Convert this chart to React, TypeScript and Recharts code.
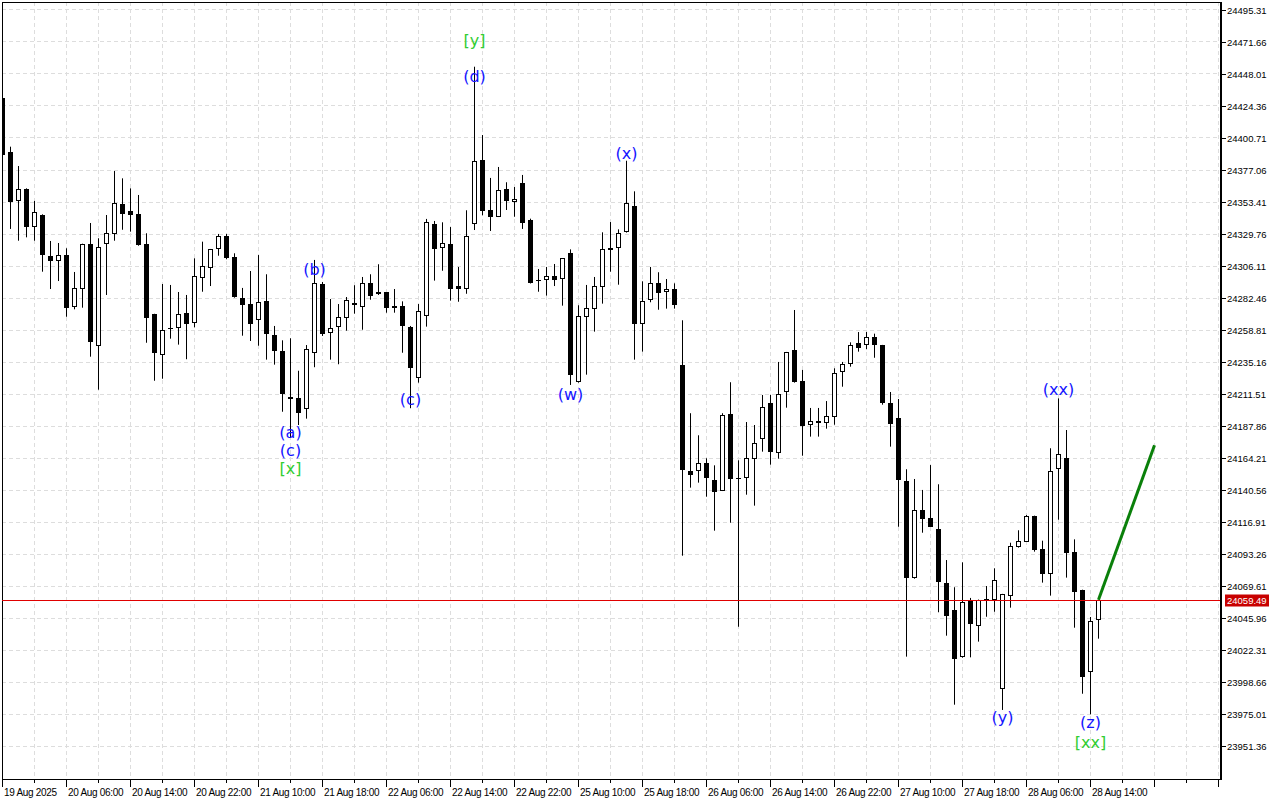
import React from "react";
import {
  ComposedChart,
  Bar,
  Line,
  Scatter,
  XAxis,
  YAxis,
  CartesianGrid,
  ReferenceLine,
  ReferenceArea,
} from "recharts";

// hourly candles, 19 Aug 22:00 .. 28 Aug 15:00
const highs = [
  24431.8, 24394.3, 24380.0, 24363.5, 24354.2, 24344.3, 24324.6, 24323.1, 24319.2, 24301.7,
  24322.6, 24337.9, 24326.6, 24343.8, 24376.3, 24370.9, 24363.5, 24358.6, 24330.3, 24270.8,
  24292.8, 24292.1, 24286.9, 24284.7, 24311.8, 24324.1, 24318.7, 24329.8, 24329.8, 24315.5,
  24289.9, 24302.4, 24314.2, 24300.0, 24261.8, 24251.2, 24252.7, 24228.7, 24247.7, 24310.6,
  24294.3, 24281.7, 24278.0, 24283.2, 24291.9, 24298.0, 24300.0, 24307.4, 24286.9, 24289.1,
  24280.0, 24261.8, 24278.0, 24340.9, 24339.4, 24338.4, 24334.9, 24305.4, 24347.3, 24453.4,
  24402.9, 24371.2, 24379.3, 24368.0, 24364.5, 24373.4, 24341.1, 24303.9, 24305.4, 24307.6,
  24312.0, 24318.4, 24277.1, 24292.1, 24298.0, 24331.0, 24338.6, 24333.2, 24383.9, 24361.3,
  24294.8, 24305.4, 24301.5, 24296.5, 24293.3, 24266.0, 24197.3, 24181.0, 24164.0, 24158.8,
  24197.3, 24220.2, 24162.5, 24190.8, 24188.6, 24210.8, 24210.8, 24235.2, 24242.6, 24273.6,
  24229.3, 24201.2, 24201.2, 24206.3, 24230.5, 24235.2, 24249.7, 24257.3, 24257.3, 24256.1,
  24247.8, 24213.0, 24207.8, 24155.9, 24148.7, 24140.6, 24159.0, 24144.8, 24088.8, 24068.7,
  24087.1, 24060.8, 24059.6, 24069.6, 24082.7, 24063.8, 24101.6, 24110.8, 24122.1, 24121.6,
  24103.1, 24171.4, 24208.3, 24184.9, 24104.1, 24066.9, 24046.7, 24059.49,
];
const opens = [
  24430.0, 24390.6, 24354.4, 24363.0, 24334.7, 24343.8, 24313.3, 24309.6, 24314.2, 24275.6,
  24288.9, 24322.2, 24246.8, 24322.2, 24330.0, 24351.7, 24346.5, 24344.5, 24322.4, 24270.4,
  24240.1, 24260.3, 24260.1, 24271.2, 24263.8, 24297.0, 24304.4, 24318.4, 24328.1, 24312.5,
  24282.5, 24277.8, 24266.0, 24280.0, 24255.1, 24243.1, 24209.1, 24208.6, 24200.2, 24241.6,
  24292.6, 24256.4, 24260.8, 24267.5, 24278.5, 24275.6, 24293.3, 24285.2, 24286.7, 24274.9,
  24276.6, 24261.0, 24223.1, 24269.4, 24337.2, 24319.2, 24322.4, 24291.3, 24289.3, 24336.9,
  24384.5, 24347.5, 24342.5, 24363.0, 24353.6, 24367.5, 24340.3, 24296.0, 24296.0, 24298.7,
  24296.3, 24315.5, 24220.2, 24268.2, 24274.1, 24290.4, 24319.4, 24319.2, 24331.0, 24350.2,
  24263.0, 24280.8, 24293.3, 24286.7, 24288.9, 24232.7, 24154.6, 24154.8, 24160.3, 24148.0,
  24140.1, 24196.7, 24149.4, 24149.7, 24163.7, 24178.5, 24204.6, 24168.1, 24212.8, 24243.8,
  24221.1, 24188.4, 24189.9, 24189.9, 24194.3, 24227.6, 24233.5, 24249.2, 24247.5, 24253.4,
  24247.5, 24204.6, 24193.6, 24147.0, 24075.3, 24125.6, 24119.9, 24111.5, 24071.6, 24051.9,
  24016.9, 24058.8, 24040.3, 24059.8, 24059.1, 23993.3, 24062.5, 24098.2, 24102.4, 24121.4,
  24096.7, 24078.3, 24155.9, 24164.2, 24094.7, 24066.7, 24006.3, 24044.3,
];
const closes = [
  24388.2, 24353.6, 24363.0, 24335.2, 24345.8, 24314.5, 24310.0, 24314.2, 24275.1, 24289.6,
  24322.2, 24250.2, 24319.9, 24330.3, 24352.5, 24344.8, 24344.0, 24321.9, 24267.9, 24242.0,
  24258.6, 24259.3, 24270.4, 24262.9, 24298.5, 24305.9, 24318.4, 24328.1, 24311.8, 24283.2,
  24277.5, 24263.5, 24279.3, 24255.6, 24243.5, 24211.7, 24208.0, 24197.3, 24244.6, 24293.3,
  24255.6, 24260.1, 24268.2, 24280.8, 24277.1, 24293.3, 24284.2, 24286.7, 24274.9, 24276.6,
  24262.0, 24231.0, 24272.6, 24338.4, 24318.9, 24322.9, 24289.3, 24289.3, 24328.1, 24383.5,
  24346.8, 24342.5, 24362.1, 24354.4, 24355.4, 24338.1, 24293.8, 24295.5, 24298.5, 24296.0,
  24311.8, 24225.8, 24268.9, 24274.9, 24291.1, 24318.4, 24318.2, 24330.3, 24352.5, 24263.0,
  24280.0, 24293.3, 24285.9, 24288.9, 24277.1, 24155.6, 24151.9, 24160.3, 24149.7, 24139.3,
  24195.8, 24148.9, 24148.5, 24164.0, 24175.1, 24201.7, 24168.9, 24211.3, 24242.3, 24220.4,
  24188.1, 24191.3, 24191.3, 24195.0, 24226.8, 24233.5, 24247.5, 24245.3, 24253.4, 24247.5,
  24205.1, 24189.6, 24148.2, 24075.8, 24125.6, 24119.4, 24113.4, 24072.4, 24047.7, 24015.9,
  24057.6, 24041.8, 24059.3, 24058.8, 24073.8, 24063.5, 24099.0, 24102.7, 24121.4, 24096.2,
  24078.7, 24154.4, 24167.0, 24094.2, 24065.4, 24002.6, 24043.8, 24059.49,
];
const lows = [
  24384.5, 24333.5, 24324.8, 24327.3, 24324.8, 24301.9, 24289.1, 24295.0, 24268.6, 24274.1,
  24275.3, 24239.1, 24214.7, 24284.7, 24324.8, 24332.9, 24331.5, 24321.1, 24249.4, 24221.3,
  24222.8, 24252.4, 24248.0, 24237.2, 24260.8, 24287.1, 24291.3, 24313.7, 24311.1, 24282.7,
  24254.6, 24250.7, 24247.2, 24236.9, 24233.2, 24198.4, 24179.0, 24188.6, 24193.3, 24231.3,
  24254.4, 24236.9, 24233.5, 24258.3, 24270.9, 24259.0, 24281.2, 24284.7, 24271.6, 24271.6,
  24242.0, 24201.0, 24219.9, 24261.3, 24295.3, 24302.6, 24280.5, 24279.7, 24285.6, 24332.7,
  24343.6, 24332.0, 24342.3, 24347.5, 24342.5, 24333.5, 24293.2, 24287.1, 24284.2, 24291.3,
  24276.8, 24218.2, 24219.9, 24225.8, 24257.6, 24278.3, 24301.9, 24292.3, 24330.8, 24236.9,
  24242.8, 24279.3, 24273.8, 24274.6, 24274.6, 24092.0, 24142.3, 24146.0, 24135.6, 24110.5,
  24139.8, 24116.4, 24039.5, 24137.1, 24129.0, 24168.9, 24159.3, 24163.7, 24201.4, 24219.9,
  24165.9, 24180.0, 24180.0, 24185.9, 24188.8, 24216.9, 24231.7, 24242.8, 24244.6, 24238.3,
  24203.6, 24172.6, 24113.4, 24017.4, 24075.0, 24109.0, 24113.2, 24050.2, 24032.9, 23981.9,
  24016.6, 24016.9, 24028.5, 24046.9, 24050.6, 23978.0, 24053.6, 24098.0, 24102.2, 24095.0,
  24072.1, 24062.5, 24118.6, 24075.8, 24038.8, 23990.0, 23974.8, 24030.7,
];

const timeLabels = [
  "19 Aug 2025", "20 Aug 06:00", "20 Aug 14:00", "20 Aug 22:00", "21 Aug 10:00",
  "21 Aug 18:00", "22 Aug 06:00", "22 Aug 14:00", "22 Aug 22:00", "25 Aug 10:00",
  "25 Aug 18:00", "26 Aug 06:00", "26 Aug 14:00", "26 Aug 22:00", "27 Aug 10:00",
  "27 Aug 18:00", "28 Aug 06:00", "28 Aug 14:00",
];

const priceTicks = [
  24495.31, 24471.66, 24448.01, 24424.36, 24400.71, 24377.06, 24353.41, 24329.76,
  24306.11, 24282.46, 24258.81, 24235.16, 24211.51, 24187.86, 24164.21, 24140.56,
  24116.91, 24093.26, 24069.61, 24045.96, 24022.31, 23998.66, 23975.01, 23951.36,
];

const lastPrice = 24059.49;

// wave marks: bar index, text, price where the text sits
const waveBars = [59, 59, 78, 39, 51, 71, 36, 36, 36, 132, 125, 136, 136];
const waveTexts = ["[y]", "(d)", "(x)", "(b)", "(c)", "(w)", "(a)", "(c)", "[x]", "(xx)", "(y)", "(z)", "[xx]"];
const wavePrices = [
  24473.1, 24446.5, 24389.6, 24303.2, 24207.1, 24211.5, 24182.7, 24170.1, 24156.8,
  24214.5, 23972.1, 23968.4, 23953.6,
];
const waveMajor = [true, false, false, false, false, false, false, false, true, false, false, false, true];

// projected move
const projBars = [137, 144];
const projPrices = [24059.49, 24173.6];

const X_DOMAIN: [number, number] = [-0.0625, 152.3125];
const Y_DOMAIN: [number, number] = [23926.98, 24501.22];
const AXIS_FONT = "'Liberation Sans', Arial, sans-serif";

const candles = opens.map((o, i) => ({
  i,
  o,
  h: highs[i],
  l: lows[i],
  c: closes[i],
  range: [lows[i], highs[i]],
}));

const waves = waveBars.map((i, k) => ({
  i,
  p: wavePrices[k],
  t: waveTexts[k],
  color: waveMajor[k] ? "#32cd32" : "#1414ff",
}));

const proj = projBars.map((i, k) => ({ i, g: projPrices[k] }));

const xTicks = Array.from({ length: 39 }, (_, k) => k * 4);

function Candle(props: any) {
  const { x, y, width, height, payload } = props;
  if (!payload) return null;
  const { o, c, h, l } = payload;
  const cx = Math.floor(x + width / 2) + 0.5;
  const k = height / (h - l);
  const py = (v: number) => y + (h - v) * k;
  const top = Math.round(py(Math.max(o, c)));
  const bot = Math.round(py(Math.min(o, c)));
  const bull = c >= o;
  return (
    <g>
      <line x1={cx} x2={cx} y1={py(h)} y2={py(l)} stroke="#000" strokeWidth={1} />
      {bull ? (
        <rect
          x={cx - 2}
          y={top + 0.5}
          width={4}
          height={Math.max(bot - top - 1, 0)}
          fill="#fff"
          stroke="#000"
          strokeWidth={1}
        />
      ) : (
        <rect x={cx - 2.5} y={top} width={5} height={Math.max(bot - top, 1)} fill="#000" />
      )}
    </g>
  );
}

function WaveText(props: any) {
  const { cx, cy, payload } = props;
  return (
    <text
      x={cx}
      y={cy}
      textAnchor="middle"
      dominantBaseline="central"
      fontFamily="'DejaVu Sans', sans-serif"
      fontSize={16}
      fill={payload.color}
    >
      {payload.t}
    </text>
  );
}

function TimeTick({ x, y, payload }: any) {
  const v = payload.value;
  const major = v % 8 === 0;
  const label = major ? timeLabels[v / 8] : undefined;
  const lx = Math.floor(x) + 0.5;
  return (
    <g>
      <line x1={lx} x2={lx} y1={y} y2={y + (major ? 8 : 4)} stroke="#000" />
      {label && (
        <text
          x={lx + 1.5}
          y={y + 17}
          fontFamily={AXIS_FONT}
          fontSize={10}
          letterSpacing={-0.3}
          fill="#000"
        >
          {label}
        </text>
      )}
    </g>
  );
}

function PriceTick({ x, y, payload }: any) {
  const ly = Math.round(y) + 0.5;
  return (
    <g>
      <line x1={x + 1} x2={x + 5} y1={ly} y2={ly} stroke="#000" />
      <text
        x={x + 6}
        y={ly}
        dominantBaseline="central"
        fontFamily={AXIS_FONT}
        fontSize={9.5}
        fill="#000"
      >
        {payload.value.toFixed(2)}
      </text>
    </g>
  );
}

function PriceLine(props: any) {
  const ly = Math.round(props.y1) + 0.5;
  return <line x1={props.x1} x2={props.x2} y1={ly} y2={ly} stroke="#e00000" strokeWidth={1} />;
}

function PriceTag({ viewBox }: any) {
  if (!viewBox) return null;
  const left = viewBox.x + viewBox.width + 4;
  const y = Math.round(viewBox.y) + 0.5;
  return (
    <g>
      <rect x={left} y={y - 6} width={44} height={12} fill="#c80000" />
      <text
        x={left + 2}
        y={y}
        dominantBaseline="central"
        fontFamily={AXIS_FONT}
        fontSize={9.5}
        fill="#fff"
      >
        {lastPrice.toFixed(2)}
      </text>
    </g>
  );
}

export default function App() {
  return (
    <div
      style={{
        position: "absolute",
        left: 0,
        top: 0,
        width: 1280,
        height: 800,
        background: "#fff",
      }}
    >
      <ComposedChart
        width={1280}
        height={800}
        data={candles}
        margin={{ top: 2, right: 0, bottom: 0, left: 2 }}
      >
        <CartesianGrid stroke="#dddddd" strokeDasharray="4 3" shapeRendering="crispEdges" />
        <XAxis
          dataKey="i"
          type="number"
          domain={X_DOMAIN}
          allowDataOverflow
          ticks={xTicks}
          interval={0}
          height={21}
          tickLine={false}
          tickSize={0}
          tickMargin={0}
          axisLine={{ stroke: "#000", shapeRendering: "crispEdges" }}
          tick={<TimeTick />}
        />
        <YAxis
          orientation="right"
          type="number"
          domain={Y_DOMAIN}
          allowDataOverflow
          ticks={priceTicks}
          interval={0}
          width={59}
          tickLine={false}
          tickSize={0}
          tickMargin={0}
          axisLine={{ stroke: "#000", strokeWidth: 2 }}
          tick={<PriceTick />}
        />
        <ReferenceArea
          x1={X_DOMAIN[0]}
          x2={X_DOMAIN[1]}
          y1={Y_DOMAIN[0]}
          y2={Y_DOMAIN[1]}
          fill="none"
          fillOpacity={0}
          stroke="#000"
          strokeWidth={1}
          shapeRendering="crispEdges"
        />
        <Bar dataKey="range" barSize={5} shape={<Candle />} isAnimationActive={false} />
        <ReferenceLine
          y={lastPrice}
          stroke="#e00000"
          shape={PriceLine}
          label={<PriceTag />}
        />
        <Line
          data={proj}
          dataKey="g"
          stroke="#0a800a"
          strokeWidth={3}
          dot={false}
          isAnimationActive={false}
        />
        <Scatter data={waves} dataKey="p" shape={<WaveText />} isAnimationActive={false} />
      </ComposedChart>
    </div>
  );
}
